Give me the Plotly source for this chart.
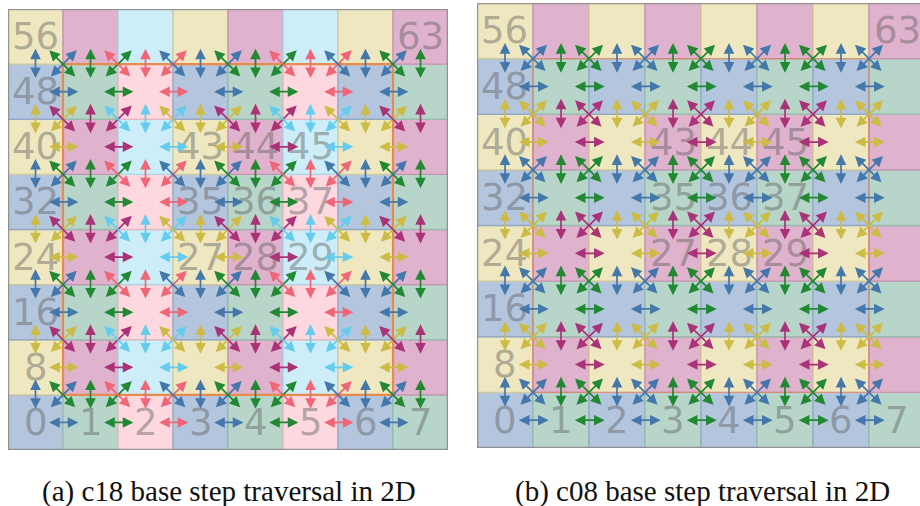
import plotly.graph_objects as go

# grid size (cells per side)
N = 8

# Paul Tol "bright" colours for the interaction arrows
ARROW_COLORS = {
    "blue": "#4477AA", "green": "#228833", "red": "#EE6677",
    "yellow": "#CCBB44", "purple": "#AA3377", "cyan": "#66CCEE",
}
# pale cell fills and their border tones
FILL_COLORS = {
    "blue": "#b3c6de", "green": "#b7d5c9", "red": "#fdd9df",
    "yellow": "#eee7bf", "purple": "#dfb2cd", "cyan": "#cdeef8",
}
EDGE_COLORS = {
    "blue": "#93a9c6", "green": "#98bcae", "red": "#e6b9c1",
    "yellow": "#d3c999", "purple": "#c693b3", "cyan": "#a9d6e6",
}

# colour of cell (x, y): c18 cycles 3 colours along x, c08 cycles 2
C18_COLORS = [["blue", "green", "red"], ["yellow", "purple", "cyan"]]
C08_COLORS = [["blue", "green"], ["yellow", "purple"]]

# cells that carry their index as a label
LABELLED = [0, 1, 2, 3, 4, 5, 6, 7, 8, 16, 24, 32, 40, 48, 56, 63,
            27, 28, 29, 35, 36, 37, 43, 44, 45]

CAPTIONS = ["(a) c18 base step traversal in 2D", "(b) c08 base step traversal in 2D"]

W, H = 920, 506


def c18_color(x, y):
    return C18_COLORS[y % 2][x % 3]


def c08_color(x, y):
    return C08_COLORS[y % 2][x % 2]


def c18_pairs():
    # base cell (x, y) interacts with its forward half-shell
    out = []
    for y in range(N - 1):
        for x in range(N):
            for dx, dy in [(1, 0), (-1, 1), (0, 1), (1, 1)]:
                nx, ny = x + dx, y + dy
                if 0 <= nx < N and 0 <= ny < N:
                    out.append(((x, y), (nx, ny), c18_color(x, y)))
    return out


def c08_pairs():
    # base cell (x, y) handles every pair inside its 2x2 block
    out = []
    for y in range(N - 1):
        for x in range(N - 1):
            col = c08_color(x, y)
            for a, b in [((0, 0), (1, 0)), ((0, 0), (0, 1)),
                         ((0, 0), (1, 1)), ((1, 0), (0, 1))]:
                out.append(((x + a[0], y + a[1]), (x + b[0], y + b[1]), col))
    return out


fig = go.Figure()
shapes, annotations = [], []

panels = [
    # (xaxis, yaxis, x domain px, y domain px (top, bottom), x range, colour fn, pairs, frame style)
    ("x", "y", (8, 448), (9, 450), (0, 8), c18_color, c18_pairs(),
     dict(color="#e88a4c", width=2.2)),
    ("x2", "y2", (477, 920), (3, 448), (0, 443 / 56), c08_color, c08_pairs(),
     dict(color="rgba(222,128,100,0.75)", width=1.4)),
]

layout_axes = {}
for i, (xa, ya, xd, yd, xr, colfn, pairs, frame) in enumerate(panels):
    suffix = "" if i == 0 else "2"
    layout_axes["xaxis" + suffix] = dict(
        domain=[xd[0] / W, xd[1] / W], range=list(xr), visible=False,
        fixedrange=True, anchor=ya)
    layout_axes["yaxis" + suffix] = dict(
        domain=[(H - yd[1]) / H, (H - yd[0]) / H], range=[0, N], visible=False,
        fixedrange=True, anchor=xa)

    # cells
    for y in range(N):
        for x in range(N):
            c = colfn(x, y)
            shapes.append(dict(type="rect", xref=xa, yref=ya, x0=x, x1=x + 1,
                               y0=y, y1=y + 1, fillcolor=FILL_COLORS[c],
                               line=dict(color=EDGE_COLORS[c], width=1.3),
                               layer="below"))
    # inner block outline
    shapes.append(dict(type="rect", xref=xa, yref=ya, x0=1, x1=N - 1, y0=1,
                       y1=N - 1, line=frame, fillcolor="rgba(0,0,0,0)",
                       layer="below"))
    # outer frame
    shapes.append(dict(type="rect", xref=xa, yref=ya, x0=0, x1=N, y0=0, y1=N,
                       line=dict(color="rgba(140,140,140,0.85)", width=2.5),
                       fillcolor="rgba(0,0,0,0)", layer="below"))

    # cell index labels
    for idx in LABELLED:
        x, y = idx % N, idx // N
        annotations.append(dict(
            xref=xa, yref=ya, x=x + 0.5, y=y + 0.5, text=str(idx),
            showarrow=False, xanchor="center", yanchor="middle",
            font=dict(family="DejaVu Sans", size=37,
                      color="rgba(95,95,95,0.45)")))

    # interaction arrows, centred on the shared edge / corner
    for (ax0, ay0), (bx, by), c in pairs:
        mx, my = (ax0 + bx) / 2 + 0.5, (ay0 + by) / 2 + 0.5
        dx, dy = bx - ax0, by - ay0
        k = 0.25 if (dx != 0 and dy != 0) else 0.28
        annotations.append(dict(
            xref=xa, yref=ya, axref=xa, ayref=ya,
            x=mx + k * dx, y=my + k * dy, ax=mx - k * dx, ay=my - k * dy,
            text="", showarrow=True, arrowside="end+start",
            arrowhead=2, startarrowhead=2, arrowsize=1.25, startarrowsize=1.25,
            arrowwidth=1.7, arrowcolor=ARROW_COLORS[c]))

# captions
for cx, txt in zip([229, 702], CAPTIONS):
    annotations.append(dict(
        xref="paper", yref="paper", x=cx / W, y=(H - 491) / H, text=txt,
        showarrow=False, xanchor="center", yanchor="middle",
        font=dict(family="Liberation Serif", size=29, color="#111111")))

fig.update_layout(
    width=W, height=H, margin=dict(l=0, r=0, t=0, b=0),
    paper_bgcolor="white", plot_bgcolor="white", showlegend=False,
    shapes=shapes, annotations=annotations, **layout_axes)

fig.write_html("out.html")
